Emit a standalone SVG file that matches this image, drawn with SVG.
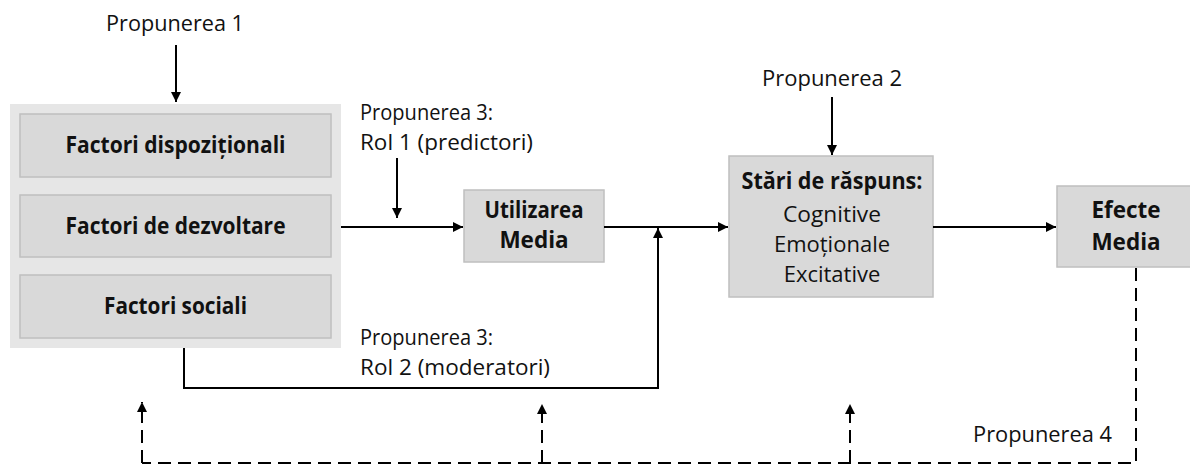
<svg xmlns="http://www.w3.org/2000/svg" width="1190" height="466" viewBox="0 0 1190 466">
<style>
.t{font-family:"Open Sans","Noto Sans",sans-serif;font-size:22px;fill:#111}
.b{font-weight:bold;font-size:22.5px}
.box{fill:#d9d9d9;stroke:#bfbfbf;stroke-width:1.5}
.ln{fill:none;stroke:#000;stroke-width:2}
.ds{fill:none;stroke:#000;stroke-width:2;stroke-dasharray:13 7}
</style>
<defs>
<marker id="ah" viewBox="0 0 10 10" refX="10" refY="5" markerWidth="5" markerHeight="5" orient="auto" markerUnits="strokeWidth">
<path d="M0,0 L10,5 L0,10 z" fill="#000"/>
</marker>
</defs>
<g id="factori">
<rect x="10" y="104" width="331" height="244" fill="#e6e6e6"/>
<rect class="box" x="20" y="114" width="311" height="63"/>
<rect class="box" x="20" y="195" width="311" height="62"/>
<rect class="box" x="20" y="275" width="311" height="63"/>
<text class="t b" x="175.5" y="153" text-anchor="middle" textLength="220" lengthAdjust="spacingAndGlyphs">Factori dispoziționali</text>
<text class="t b" x="175.5" y="234" text-anchor="middle" textLength="220" lengthAdjust="spacingAndGlyphs">Factori de dezvoltare</text>
<text class="t b" x="175.5" y="314" text-anchor="middle" textLength="143" lengthAdjust="spacingAndGlyphs">Factori sociali</text>
</g>
<g id="utilizarea">
<rect class="box" x="464" y="190" width="140" height="72"/>
<text class="t b" x="534" y="218" text-anchor="middle" textLength="99" lengthAdjust="spacingAndGlyphs">Utilizarea</text>
<text class="t b" x="534" y="248" text-anchor="middle">Media</text>
</g>
<g id="stari">
<rect class="box" x="729" y="156" width="204" height="141"/>
<text class="t b" x="832" y="189" text-anchor="middle" textLength="181" lengthAdjust="spacingAndGlyphs">Stări de răspuns:</text>
<text class="t" x="832" y="222" text-anchor="middle" textLength="98" lengthAdjust="spacingAndGlyphs">Cognitive</text>
<text class="t" x="832" y="252" text-anchor="middle">Emoționale</text>
<text class="t" x="832" y="282" text-anchor="middle">Excitative</text>
</g>
<g id="efecte">
<rect class="box" x="1057" y="186" width="140" height="81"/>
<text class="t b" x="1126" y="218" text-anchor="middle">Efecte</text>
<text class="t b" x="1126" y="250" text-anchor="middle">Media</text>
</g>
<g id="labels">
<text class="t" x="175" y="31" text-anchor="middle" textLength="138" lengthAdjust="spacingAndGlyphs">Propunerea 1</text>
<text class="t" x="832" y="86" text-anchor="middle" textLength="140" lengthAdjust="spacingAndGlyphs">Propunerea 2</text>
<text class="t" x="360" y="120" textLength="133" lengthAdjust="spacingAndGlyphs">Propunerea 3:</text>
<text class="t" x="360" y="150" textLength="173" lengthAdjust="spacingAndGlyphs">Rol 1 (predictori)</text>
<text class="t" x="360" y="345" textLength="133" lengthAdjust="spacingAndGlyphs">Propunerea 3:</text>
<text class="t" x="360" y="375" textLength="190" lengthAdjust="spacingAndGlyphs">Rol 2 (moderatori)</text>
<text class="t" x="973" y="442" textLength="139" lengthAdjust="spacingAndGlyphs">Propunerea 4</text>
</g>
<g id="connectors">
<line class="ln" x1="176" y1="45" x2="176" y2="102" marker-end="url(#ah)"/>
<line class="ln" x1="832" y1="97" x2="832" y2="155" marker-end="url(#ah)"/>
<line class="ln" x1="397" y1="158" x2="397" y2="218" marker-end="url(#ah)"/>
<line class="ln" x1="341" y1="227" x2="463" y2="227" marker-end="url(#ah)"/>
<line class="ln" x1="604" y1="227" x2="728" y2="227" marker-end="url(#ah)"/>
<line class="ln" x1="933" y1="227" x2="1056" y2="227" marker-end="url(#ah)"/>
<polyline class="ln" points="184,348 184,388 658,388 658,228" marker-end="url(#ah)"/>
<polyline class="ds" points="1136,268 1136,463 142,463"/>
<line class="ds" x1="142" y1="463" x2="142" y2="402" marker-end="url(#ah)"/>
<line class="ds" x1="542" y1="463" x2="542" y2="404" marker-end="url(#ah)"/>
<line class="ds" x1="850" y1="463" x2="850" y2="404" marker-end="url(#ah)"/>
</g>
</svg>
